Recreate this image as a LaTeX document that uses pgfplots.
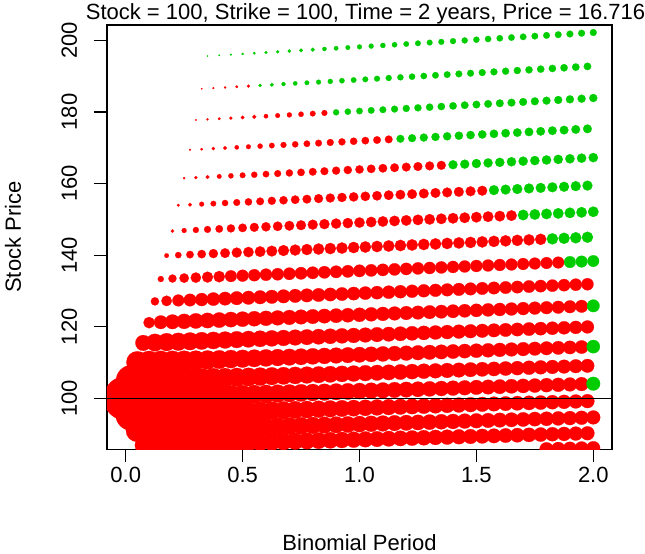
\documentclass[border=0pt]{standalone}
\usepackage{fontspec}
\setmainfont{Liberation Sans}
\usepackage{pgfplots}
\pgfplotsset{compat=1.18}
\definecolor{rred}{RGB}{255,0,0}
\definecolor{rgreen}{RGB}{0,205,0}
\newcommand{\lab}{\fontsize{22}{26}\selectfont}
\pgfplotsset{
  dotstyle/.style={scatter, only marks, mark=*,
    point meta=\thisrow{r},
    scatter/use mapped color={draw=#1, fill=#1, line width=0.2pt},
    visualization depends on={value \thisrow{r}\as\myrad},
    scatter/@pre marker code/.append style={/tikz/mark size=\myrad pt}},
}
\begin{document}
\begin{tikzpicture}
\useasboundingbox (-107pt,-104.7pt) rectangle (538pt,449.3pt);
\begin{axis}[
  at={(0pt,0pt)}, anchor=south west,
  scale only axis, width=505pt, height=424.3pt,
  xmin=-0.08, xmax=2.08, ymin=85.75, ymax=204.3,
  axis line style={line width=1.1pt},
  tick style={line width=1.1pt, black},
  tick align=outside, tick pos=left,
  major tick length=13pt,
  xtick={0,0.5,1,1.5,2}, xticklabels={0.0,0.5,1.0,1.5,2.0},
  ytick={100,120,140,160,180,200}, yticklabels={100,120,140,160,180,200},
  tick label style={font=\lab},
  xticklabel style={anchor=base, yshift=-20pt},
  yticklabel style={rotate=90, anchor=base, yshift=17pt},
  clip marker paths=true,
  title={Stock = 100, Strike = 100, Time = 2 years, Price = 16.716},
  every axis title/.style={at={(axis description cs:0.5,1)}, anchor=base, yshift=5pt, xshift=6pt, font=\lab},
  xlabel={Binomial Period},
  every axis x label/.style={at={(axis description cs:0.5,0)}, anchor=base, yshift=-101pt, font=\lab},
  ylabel={Stock Price},
  every axis y label/.style={at={(axis description cs:0,0.5)}, rotate=90, anchor=base, yshift=86pt, font=\lab},
]
% red nodes: continuation (not exercised)
\addplot[dotstyle=rred] table {
x y r
0 100.00 22.00
0.05 100.10 15.70
0.10 100.20 13.66
0.15 100.30 12.51
0.20 100.40 11.73
0.25 100.50 11.15
0.30 100.60 10.69
0.35 100.70 10.32
0.40 100.80 10.01
0.45 100.90 9.74
0.50 101.01 9.50
0.55 101.11 9.29
0.60 101.21 9.10
0.65 101.31 8.93
0.70 101.41 8.78
0.75 101.51 8.64
0.80 101.61 8.51
0.85 101.71 8.39
0.90 101.82 8.27
0.95 101.92 8.17
1.00 102.02 8.07
1.05 102.12 7.98
1.10 102.22 7.89
1.15 102.33 7.81
1.20 102.43 7.73
1.25 102.53 7.65
1.30 102.63 7.58
1.35 102.74 7.51
1.40 102.84 7.45
1.45 102.94 7.39
1.50 103.05 7.33
1.55 103.15 7.27
1.60 103.25 7.22
1.65 103.36 7.16
1.70 103.46 7.11
1.75 103.56 7.06
1.80 103.67 7.02
1.85 103.77 6.97
1.90 103.87 6.92
1.95 103.98 6.88
0.025 104.91 15.52
0.075 105.02 13.51
0.125 105.12 12.38
0.175 105.23 11.60
0.225 105.33 11.03
0.275 105.44 10.58
0.325 105.54 10.21
0.375 105.65 9.90
0.425 105.75 9.63
0.475 105.86 9.39
0.525 105.96 9.19
0.575 106.07 9.00
0.625 106.18 8.83
0.675 106.28 8.68
0.725 106.39 8.54
0.775 106.50 8.41
0.825 106.60 8.29
0.875 106.71 8.18
0.925 106.82 8.08
0.975 106.92 7.98
1.025 107.03 7.89
1.075 107.14 7.80
1.125 107.24 7.72
1.175 107.35 7.64
1.225 107.46 7.57
1.275 107.57 7.50
1.325 107.67 7.43
1.375 107.78 7.37
1.425 107.89 7.31
1.475 108.00 7.25
1.525 108.10 7.19
1.575 108.21 7.14
1.625 108.32 7.09
1.675 108.43 7.03
1.725 108.54 6.99
1.775 108.65 6.94
1.825 108.76 6.89
1.875 108.86 6.85
1.925 108.97 6.81
1.975 109.08 6.77
0.025 95.41 15.88
0.075 95.51 13.82
0.125 95.61 12.65
0.175 95.70 11.87
0.225 95.80 11.28
0.275 95.89 10.82
0.325 95.99 10.44
0.375 96.09 10.12
0.425 96.18 9.85
0.475 96.28 9.61
0.525 96.37 9.40
0.575 96.47 9.21
0.625 96.57 9.04
0.675 96.66 8.88
0.725 96.76 8.74
0.775 96.86 8.60
0.825 96.95 8.48
0.875 97.05 8.37
0.925 97.15 8.26
0.975 97.25 8.16
1.025 97.34 8.07
1.075 97.44 7.98
1.125 97.54 7.90
1.175 97.64 7.82
1.225 97.73 7.74
1.275 97.83 7.67
1.325 97.93 7.60
1.375 98.03 7.53
1.425 98.12 7.47
1.475 98.22 7.41
1.525 98.32 7.35
1.575 98.42 7.30
1.625 98.52 7.24
1.675 98.62 7.19
1.725 98.72 7.14
1.775 98.81 7.09
1.825 98.91 7.05
1.875 99.01 7.00
1.925 99.11 6.96
1.975 99.21 6.92
0.05 110.06 11.00
0.10 110.17 10.99
0.15 110.28 10.67
0.20 110.39 10.32
0.25 110.50 10.00
0.30 110.61 9.72
0.35 110.72 9.47
0.40 110.83 9.25
0.45 110.95 9.06
0.50 111.06 8.88
0.55 111.17 8.72
0.60 111.28 8.57
0.65 111.39 8.44
0.70 111.50 8.31
0.75 111.61 8.19
0.80 111.72 8.09
0.85 111.84 7.98
0.90 111.95 7.89
0.95 112.06 7.80
1.00 112.17 7.71
1.05 112.28 7.63
1.10 112.40 7.56
1.15 112.51 7.49
1.20 112.62 7.42
1.25 112.73 7.35
1.30 112.85 7.29
1.35 112.96 7.23
1.40 113.07 7.17
1.45 113.19 7.11
1.50 113.30 7.06
1.55 113.41 7.01
1.60 113.53 6.96
1.65 113.64 6.91
1.70 113.75 6.86
1.75 113.87 6.82
1.80 113.98 6.78
1.85 114.10 6.73
1.90 114.21 6.69
1.95 114.32 6.65
0.05 91.04 11.51
0.10 91.13 11.50
0.15 91.22 11.17
0.20 91.31 10.79
0.25 91.41 10.46
0.30 91.50 10.17
0.35 91.59 9.91
0.40 91.68 9.68
0.45 91.77 9.47
0.50 91.86 9.29
0.55 91.96 9.12
0.60 92.05 8.96
0.65 92.14 8.82
0.70 92.23 8.69
0.75 92.32 8.57
0.80 92.42 8.45
0.85 92.51 8.35
0.90 92.60 8.25
0.95 92.69 8.15
1.00 92.79 8.06
1.05 92.88 7.98
1.10 92.97 7.90
1.15 93.07 7.82
1.20 93.16 7.75
1.25 93.25 7.68
1.30 93.34 7.62
1.35 93.44 7.55
1.40 93.53 7.49
1.45 93.63 7.43
1.50 93.72 7.38
1.55 93.81 7.32
1.60 93.91 7.27
1.65 94.00 7.22
1.70 94.09 7.17
1.75 94.19 7.13
1.80 94.28 7.08
1.85 94.38 7.04
1.90 94.47 6.99
1.95 94.57 6.95
2.00 94.66 6.91
0.075 115.47 7.83
0.125 115.58 8.70
0.175 115.70 8.91
0.225 115.81 8.90
0.275 115.93 8.82
0.325 116.04 8.71
0.375 116.16 8.59
0.425 116.28 8.47
0.475 116.39 8.36
0.525 116.51 8.25
0.575 116.63 8.14
0.625 116.74 8.04
0.675 116.86 7.94
0.725 116.98 7.85
0.775 117.09 7.76
0.825 117.21 7.68
0.875 117.33 7.60
0.925 117.45 7.52
0.975 117.56 7.45
1.025 117.68 7.38
1.075 117.80 7.32
1.125 117.92 7.25
1.175 118.03 7.19
1.225 118.15 7.13
1.275 118.27 7.08
1.325 118.39 7.02
1.375 118.51 6.97
1.425 118.63 6.92
1.475 118.74 6.87
1.525 118.86 6.83
1.575 118.98 6.78
1.625 119.10 6.74
1.675 119.22 6.70
1.725 119.34 6.66
1.775 119.46 6.62
1.825 119.58 6.58
1.875 119.70 6.54
1.925 119.82 6.50
1.975 119.94 6.47
0.075 86.87 8.37
0.125 86.95 9.31
0.175 87.04 9.53
0.225 87.13 9.52
0.275 87.21 9.43
0.325 87.30 9.32
0.375 87.39 9.19
0.425 87.48 9.06
0.475 87.56 8.94
0.525 87.65 8.82
0.575 87.74 8.70
0.625 87.83 8.59
0.675 87.91 8.49
0.725 88.00 8.39
0.775 88.09 8.30
0.825 88.18 8.21
0.875 88.27 8.12
0.925 88.36 8.04
0.975 88.44 7.96
1.025 88.53 7.89
1.075 88.62 7.82
1.125 88.71 7.75
1.175 88.80 7.69
1.225 88.89 7.62
1.275 88.98 7.56
1.325 89.07 7.51
1.375 89.15 7.45
1.425 89.24 7.40
1.475 89.33 7.34
1.525 89.42 7.29
1.575 89.51 7.25
1.625 89.60 7.20
1.675 89.69 7.15
1.725 89.78 7.11
1.775 89.87 7.07
1.825 89.96 7.03
1.875 90.05 6.99
1.925 90.14 6.95
1.975 90.23 6.91
0.10 121.14 5.62
0.15 121.26 6.75
0.20 121.38 7.27
0.25 121.50 7.51
0.30 121.62 7.62
0.35 121.74 7.66
0.40 121.86 7.65
0.45 121.99 7.63
0.50 122.11 7.59
0.55 122.23 7.54
0.60 122.35 7.49
0.65 122.47 7.43
0.70 122.60 7.38
0.75 122.72 7.32
0.80 122.84 7.26
0.85 122.97 7.21
0.90 123.09 7.15
0.95 123.21 7.10
1.00 123.34 7.05
1.05 123.46 7.00
1.10 123.58 6.95
1.15 123.71 6.90
1.20 123.83 6.85
1.25 123.95 6.81
1.30 124.08 6.76
1.35 124.20 6.72
1.40 124.33 6.68
1.45 124.45 6.64
1.50 124.57 6.60
1.55 124.70 6.56
1.60 124.82 6.52
1.65 124.95 6.49
1.70 125.07 6.45
1.75 125.20 6.42
1.80 125.32 6.38
1.85 125.45 6.35
1.90 125.58 6.32
1.95 125.70 6.29
0.55 83.63 8.24
0.60 83.72 8.18
0.65 83.80 8.12
0.70 83.88 8.06
0.75 83.97 8.00
0.80 84.05 7.94
0.85 84.14 7.87
0.90 84.22 7.82
0.95 84.30 7.76
1.00 84.39 7.70
1.05 84.47 7.64
1.10 84.56 7.59
1.15 84.64 7.54
1.20 84.73 7.48
1.25 84.81 7.43
1.30 84.90 7.39
1.35 84.98 7.34
1.40 85.07 7.29
1.45 85.15 7.25
1.50 85.24 7.21
1.55 85.32 7.16
1.60 85.41 7.12
1.65 85.49 7.08
1.70 85.58 7.04
1.75 85.66 7.00
1.80 85.75 6.97
1.85 85.84 6.93
1.90 85.92 6.90
1.95 86.01 6.86
2.00 86.09 6.83
0.125 127.08 4.08
0.175 127.21 5.23
0.225 127.34 5.86
0.275 127.46 6.24
0.325 127.59 6.47
0.375 127.72 6.62
0.425 127.85 6.71
0.475 127.98 6.77
0.525 128.10 6.79
0.575 128.23 6.80
0.625 128.36 6.80
0.675 128.49 6.79
0.725 128.62 6.77
0.775 128.75 6.75
0.825 128.87 6.73
0.875 129.00 6.70
0.925 129.13 6.67
0.975 129.26 6.64
1.025 129.39 6.61
1.075 129.52 6.58
1.125 129.65 6.54
1.175 129.78 6.51
1.225 129.91 6.48
1.275 130.04 6.45
1.325 130.17 6.42
1.375 130.30 6.38
1.425 130.43 6.35
1.475 130.56 6.32
1.525 130.69 6.29
1.575 130.82 6.26
1.625 130.95 6.23
1.675 131.08 6.21
1.725 131.22 6.18
1.775 131.35 6.15
1.825 131.48 6.12
1.875 131.61 6.10
1.925 131.74 6.07
1.975 131.87 6.04
0.15 133.32 3.00
0.20 133.46 4.03
0.25 133.59 4.68
0.30 133.72 5.13
0.35 133.86 5.44
0.40 133.99 5.66
0.45 134.13 5.81
0.50 134.26 5.93
0.55 134.39 6.01
0.60 134.53 6.07
0.65 134.66 6.11
0.70 134.80 6.14
0.75 134.93 6.16
0.80 135.07 6.17
0.85 135.20 6.17
0.90 135.34 6.17
0.95 135.47 6.17
1.00 135.61 6.16
1.05 135.74 6.15
1.10 135.88 6.13
1.15 136.02 6.12
1.20 136.15 6.10
1.25 136.29 6.08
1.30 136.42 6.06
1.35 136.56 6.05
1.40 136.70 6.03
1.45 136.83 6.01
1.50 136.97 5.99
1.55 137.11 5.97
1.60 137.25 5.95
1.65 137.38 5.92
1.70 137.52 5.90
1.75 137.66 5.88
1.80 137.80 5.86
1.85 137.93 5.84
0.175 139.87 2.25
0.225 140.01 3.12
0.275 140.15 3.73
0.325 140.29 4.18
0.375 140.43 4.53
0.425 140.57 4.79
0.475 140.71 4.99
0.525 140.85 5.14
0.575 140.99 5.27
0.625 141.13 5.37
0.675 141.28 5.44
0.725 141.42 5.50
0.775 141.56 5.55
0.825 141.70 5.59
0.875 141.84 5.62
0.925 141.98 5.64
0.975 142.13 5.65
1.025 142.27 5.67
1.075 142.41 5.67
1.125 142.55 5.68
1.175 142.69 5.68
1.225 142.84 5.68
1.275 142.98 5.67
1.325 143.12 5.67
1.375 143.27 5.66
1.425 143.41 5.65
1.475 143.55 5.64
1.525 143.70 5.63
1.575 143.84 5.62
1.625 143.99 5.61
1.675 144.13 5.60
1.725 144.27 5.59
1.775 144.42 5.58
0.20 146.74 1.72
0.25 146.88 2.43
0.30 147.03 2.97
0.35 147.18 3.40
0.40 147.33 3.75
0.45 147.47 4.02
0.50 147.62 4.25
0.55 147.77 4.43
0.60 147.92 4.58
0.65 148.06 4.70
0.70 148.21 4.81
0.75 148.36 4.89
0.80 148.51 4.96
0.85 148.66 5.02
0.90 148.81 5.07
0.95 148.95 5.11
1.00 149.10 5.15
1.05 149.25 5.18
1.10 149.40 5.20
1.15 149.55 5.22
1.20 149.70 5.24
1.25 149.85 5.25
1.30 150.00 5.26
1.35 150.15 5.26
1.40 150.30 5.27
1.45 150.45 5.27
1.50 150.60 5.27
1.55 150.75 5.27
1.60 150.90 5.27
1.65 151.05 5.27
0.225 153.94 1.35
0.275 154.10 1.91
0.325 154.25 2.38
0.375 154.40 2.77
0.425 154.56 3.10
0.475 154.71 3.37
0.525 154.87 3.60
0.575 155.02 3.79
0.625 155.18 3.96
0.675 155.33 4.10
0.725 155.49 4.22
0.775 155.64 4.32
0.825 155.80 4.41
0.875 155.96 4.49
0.925 156.11 4.55
0.975 156.27 4.61
1.025 156.43 4.66
1.075 156.58 4.70
1.125 156.74 4.74
1.175 156.90 4.77
1.225 157.05 4.80
1.275 157.21 4.83
1.325 157.37 4.85
1.375 157.52 4.86
1.425 157.68 4.88
1.475 157.84 4.89
1.525 158.00 4.90
0.25 161.50 1.10
0.30 161.66 1.53
0.35 161.82 1.92
0.40 161.99 2.26
0.45 162.15 2.56
0.50 162.31 2.81
0.55 162.47 3.04
0.60 162.64 3.23
0.65 162.80 3.40
0.70 162.96 3.55
0.75 163.12 3.68
0.80 163.29 3.79
0.85 163.45 3.89
0.90 163.61 3.98
0.95 163.78 4.06
1.00 163.94 4.13
1.05 164.11 4.19
1.10 164.27 4.25
1.15 164.43 4.30
1.20 164.60 4.34
1.25 164.76 4.38
1.30 164.93 4.41
1.35 165.09 4.44
0.275 169.43 0.92
0.325 169.60 1.25
0.375 169.77 1.57
0.425 169.94 1.86
0.475 170.11 2.12
0.525 170.28 2.35
0.575 170.45 2.56
0.625 170.62 2.75
0.675 170.79 2.92
0.725 170.96 3.07
0.775 171.13 3.20
0.825 171.30 3.32
0.875 171.48 3.43
0.925 171.65 3.52
0.975 171.82 3.61
1.025 171.99 3.69
1.075 172.16 3.76
1.125 172.34 3.82
0.30 177.75 0.79
0.35 177.93 1.04
0.40 178.11 1.30
0.45 178.28 1.54
0.50 178.46 1.76
0.55 178.64 1.97
0.60 178.82 2.16
0.65 179.00 2.34
0.70 179.18 2.50
0.75 179.36 2.64
0.80 179.54 2.77
0.85 179.72 2.89
0.325 186.48 0.70
0.375 186.66 0.89
0.425 186.85 1.09
0.475 187.04 1.29
0.525 187.23 1.48
};
% green nodes: early exercise
\addplot[dotstyle=rgreen] table {
x y r
2.00 104.08 6.84
2.00 114.44 6.62
2.00 125.83 6.25
1.90 138.07 5.82
1.95 138.21 5.80
2.00 138.35 5.78
1.825 144.56 5.56
1.875 144.71 5.55
1.925 144.85 5.54
1.975 145.00 5.52
1.70 151.21 5.27
1.75 151.36 5.26
1.80 151.51 5.26
1.85 151.66 5.25
1.90 151.81 5.25
1.95 151.96 5.24
2.00 152.12 5.23
1.575 158.16 4.91
1.625 158.31 4.92
1.675 158.47 4.93
1.725 158.63 4.93
1.775 158.79 4.93
1.825 158.95 4.94
1.875 159.11 4.94
1.925 159.27 4.94
1.975 159.43 4.94
1.40 165.26 4.47
1.45 165.42 4.50
1.50 165.59 4.52
1.55 165.76 4.54
1.60 165.92 4.55
1.65 166.09 4.57
1.70 166.25 4.58
1.75 166.42 4.59
1.80 166.59 4.60
1.85 166.75 4.61
1.90 166.92 4.62
1.95 167.09 4.63
2.00 167.25 4.63
1.175 172.51 3.88
1.225 172.68 3.93
1.275 172.85 3.98
1.325 173.03 4.02
1.375 173.20 4.06
1.425 173.37 4.09
1.475 173.55 4.13
1.525 173.72 4.15
1.575 173.89 4.18
1.625 174.07 4.20
1.675 174.24 4.23
1.725 174.42 4.25
1.775 174.59 4.26
1.825 174.77 4.28
1.875 174.94 4.30
1.925 175.12 4.31
1.975 175.29 4.32
0.90 179.90 3.00
0.95 180.08 3.10
1.00 180.26 3.19
1.05 180.44 3.28
1.10 180.62 3.35
1.15 180.80 3.42
1.20 180.98 3.48
1.25 181.16 3.54
1.30 181.34 3.60
1.35 181.52 3.65
1.40 181.70 3.69
1.45 181.89 3.73
1.50 182.07 3.77
1.55 182.25 3.80
1.60 182.43 3.84
1.65 182.61 3.87
1.70 182.80 3.89
1.75 182.98 3.92
1.80 183.16 3.94
1.85 183.35 3.96
1.90 183.53 3.98
1.95 183.71 4.00
2.00 183.90 4.02
0.575 187.41 1.66
0.625 187.60 1.84
0.675 187.79 1.99
0.725 187.98 2.14
0.775 188.16 2.28
0.825 188.35 2.40
0.875 188.54 2.52
0.925 188.73 2.63
0.975 188.92 2.73
1.025 189.11 2.82
1.075 189.30 2.90
1.125 189.49 2.98
1.175 189.68 3.05
1.225 189.86 3.12
1.275 190.05 3.18
1.325 190.25 3.24
1.375 190.44 3.29
1.425 190.63 3.34
1.475 190.82 3.39
1.525 191.01 3.43
1.575 191.20 3.47
1.625 191.39 3.51
1.675 191.58 3.54
1.725 191.77 3.58
1.775 191.97 3.61
1.825 192.16 3.63
1.875 192.35 3.66
1.925 192.54 3.68
1.975 192.73 3.71
0.35 195.63 0.64
0.40 195.83 0.78
0.45 196.03 0.94
0.50 196.22 1.10
0.55 196.42 1.26
0.60 196.61 1.41
0.65 196.81 1.56
0.70 197.01 1.71
0.75 197.21 1.84
0.80 197.40 1.97
0.85 197.60 2.08
0.90 197.80 2.19
0.95 198.00 2.30
1.00 198.19 2.39
1.05 198.39 2.48
1.10 198.59 2.57
1.15 198.79 2.65
1.20 198.99 2.72
1.25 199.19 2.79
1.30 199.39 2.85
1.35 199.59 2.91
1.40 199.79 2.97
1.45 199.99 3.02
1.50 200.19 3.07
1.55 200.39 3.12
1.60 200.59 3.16
1.65 200.79 3.20
1.70 200.99 3.24
1.75 201.19 3.28
1.80 201.39 3.31
1.85 201.59 3.34
1.90 201.79 3.37
1.95 202.00 3.40
2.00 202.20 3.42
};
% strike line
\addplot[black, line width=1.1pt, forget plot] coordinates {(-0.08,100) (2.08,100)};
\end{axis}
\end{tikzpicture}
\end{document}
